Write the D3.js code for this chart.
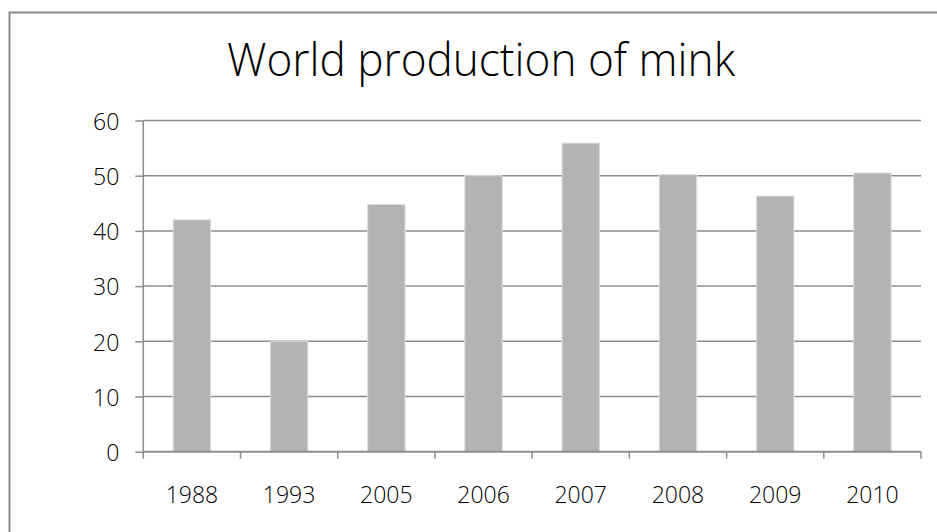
<!DOCTYPE html>
<html lang="en">
<head>
<meta charset="UTF-8">
<script src="https://d3js.org/d3.v7.min.js"></script>
<title>World production of mink</title>
<style>
body { margin: 0; background: #fff; }
text { font-family: "Open Sans", "DejaVu Sans", sans-serif; fill: #000; }
.axis text { font-size: 23px; font-weight: 300; }
.title { font-size: 46px; font-weight: 300; }
</style>
</head>
<body>
<script>

// data
var years = ["1988", "1993", "2005", "2006", "2007", "2008", "2009", "2010"];
var production = [42, 20, 44.8, 50, 55.9, 50.2, 46.3, 50.5];
var yTicks = [0, 10, 20, 30, 40, 50, 60];

var width = 937,
    height = 532;

var plotLeft = 143.3, plotRight = 921, plotTop = 120.5, plotBottom = 451.7;

var svg = d3.select("body").append("svg")
    .attr("width", width)
    .attr("height", height);

// outer frame (runs off the right and bottom edges)
svg.append("rect")
    .attr("x", 9.5).attr("y", 12.5)
    .attr("width", 940).attr("height", 540)
    .attr("fill", "none")
    .attr("stroke", "#8c8c8c")
    .attr("stroke-width", 2);

svg.append("text")
    .attr("class", "title")
    .attr("x", 227)
    .attr("y", 76)
    .attr("textLength", 508)
    .attr("lengthAdjust", "spacingAndGlyphs")
    .text("World production of mink");

var x = d3.scaleBand()
    .domain(years)
    .range([plotLeft, plotRight])
    .paddingInner(0.615)
    .paddingOuter(0.3075);

var y = d3.scaleLinear()
    .domain([0, 60])
    .range([plotBottom, plotTop]);

// gridlines
svg.append("g")
  .selectAll("line")
    .data(yTicks.slice(1))
  .enter().append("line")
    .attr("x1", plotLeft).attr("x2", plotRight)
    .attr("y1", function(d) { return y(d); })
    .attr("y2", function(d) { return y(d); })
    .attr("stroke", "#8c8c8c")
    .attr("stroke-width", 1.5);

// bars
svg.append("g")
  .selectAll("rect")
    .data(production)
  .enter().append("rect")
    .attr("x", function(d, i) { return x(years[i]); })
    .attr("width", x.bandwidth())
    .attr("y", function(d) { return y(d); })
    .attr("height", function(d) { return y(0) - y(d); })
    .attr("fill", "#b3b3b3")
    .attr("stroke", "#dcdcdc")
    .attr("stroke-width", 1);

// y axis
var yAxis = svg.append("g")
    .attr("class", "axis")
    .attr("transform", "translate(" + plotLeft + ",0)")
    .call(d3.axisLeft(y).tickValues(yTicks).tickSize(8).tickPadding(16));
yAxis.selectAll("line, path").attr("stroke", "#8c8c8c").attr("stroke-width", 1.5);
yAxis.select(".domain").attr("d", "M0," + plotTop + "V" + plotBottom);
yAxis.selectAll("text").attr("fill", "#000").attr("dy", "0.38em");

// x axis, ticks sit on category boundaries
var xAxis = svg.append("g")
    .attr("class", "axis")
    .attr("transform", "translate(0," + plotBottom + ")");
xAxis.append("line")
    .attr("x1", plotLeft).attr("x2", plotRight)
    .attr("stroke", "#8c8c8c").attr("stroke-width", 2);
var step = x.step();
xAxis.selectAll(".tk")
    .data(d3.range(years.length + 1))
  .enter().append("line")
    .attr("class", "tk")
    .attr("x1", function(d) { return plotLeft + d * step; })
    .attr("x2", function(d) { return plotLeft + d * step; })
    .attr("y1", 0).attr("y2", 7)
    .attr("stroke", "#8c8c8c").attr("stroke-width", 1.5);
xAxis.selectAll(".lbl")
    .data(years)
  .enter().append("text")
    .attr("class", "lbl")
    .attr("x", function(d) { return x(d) + x.bandwidth() / 2; })
    .attr("y", 51)
    .attr("text-anchor", "middle")
    .text(function(d) { return d; });

</script>
</body>
</html>
